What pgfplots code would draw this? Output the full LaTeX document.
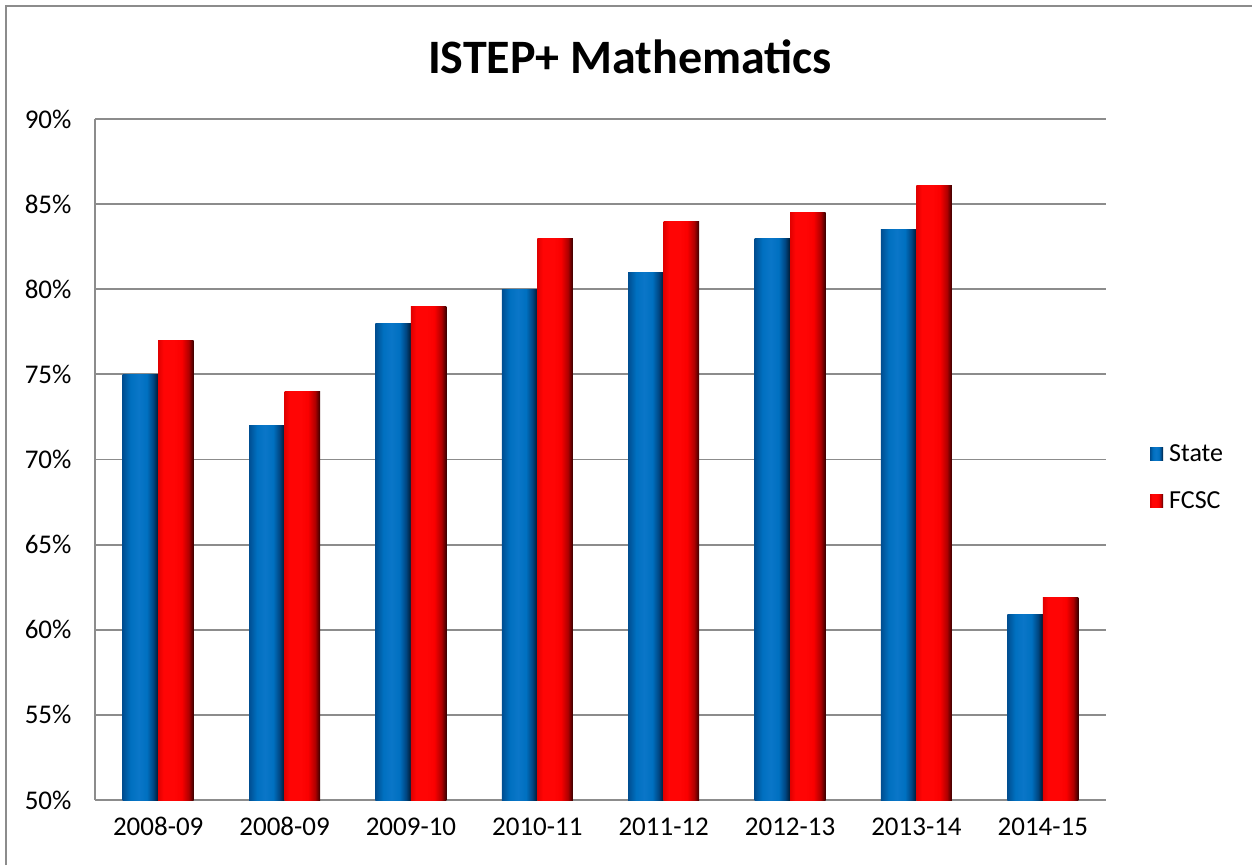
\documentclass[border=0pt]{standalone}
\usepackage{pgfplots}
\pgfplotsset{compat=1.18}
\usepackage{fontspec}
\setmainfont{Carlito}
\definecolor{gridgray}{RGB}{140,140,140}
\definecolor{bA}{RGB}{0,78,145}
\definecolor{bB}{RGB}{0,112,192}
\definecolor{bC}{RGB}{10,118,200}
\definecolor{bD}{RGB}{0,70,130}
\definecolor{bE}{RGB}{0,25,50}
\definecolor{rA}{RGB}{225,0,0}
\definecolor{rB}{RGB}{255,5,5}
\definecolor{rC}{RGB}{250,0,0}
\definecolor{rD}{RGB}{175,0,0}
\definecolor{rE}{RGB}{55,0,0}
\pgfdeclarehorizontalshading{stshade}{100bp}{color(0bp)=(bA); color(25bp)=(bA); color(36bp)=(bB); color(47.5bp)=(bC); color(59bp)=(bB); color(68bp)=(bD); color(75bp)=(bE); color(100bp)=(bE)}
\pgfdeclarehorizontalshading{fcshade}{100bp}{color(0bp)=(rA); color(25bp)=(rA); color(32.5bp)=(rB); color(47.5bp)=(rB); color(58bp)=(rC); color(68bp)=(rD); color(75bp)=(rE); color(100bp)=(rE)}
\pgfplotsset{
  stbar/.style={ybar, bar width=35.5pt, bar shift=-17.75pt, draw=none, shading=stshade},
  fcbar/.style={ybar, bar width=35.5pt, bar shift=17.75pt, draw=none, shading=fcshade},
}
\begin{document}
\begin{tikzpicture}[x=1pt,y=1pt]
\useasboundingbox (0,0) rectangle (1252,865);
\draw[gridgray, line width=1.6pt] (6,0) -- (6,859) -- (1252,859);
\node[font=\fontsize{48}{56}\selectfont\bfseries] at (630,808) {ISTEP+ Mathematics};
\begin{axis}[
  at={(95pt,65pt)}, anchor=south west,
  scale only axis, width=1011pt, height=681pt,
  xmin=-0.5, xmax=7.5,
  ymin=50, ymax=90, ytick={50,55,...,90},
  xtick={0,...,7},
  xticklabels={2008-09,2008-09,2009-10,2010-11,2011-12,2012-13,2013-14,2014-15},
  yticklabel={\pgfmathprintnumber{\tick}\%},
  /pgf/number format/assume math mode=true,
  tick label style={font=\fontsize{27}{31}\selectfont},
  yticklabel style={xshift=-20pt},
  xticklabel style={yshift=-14pt},
  axis x line*=bottom, axis y line*=left,
  axis line style={gridgray, line width=1.8pt},
  major tick length=0pt,
  ymajorgrids, grid style={gridgray, line width=1.8pt},
  legend style={at={(1.0435,0.474)}, anchor=west, draw=none, fill=none,
    font=\fontsize{26}{30}\selectfont, row sep=25pt, inner sep=0pt},
  legend cell align=left,
  legend image code/.code={\path[#1] (0pt,-6.5pt) rectangle (13pt,6.5pt);},
  clip=false,
]
\addplot[stbar] coordinates {(0,75)};
\addplot[fcbar] coordinates {(0,77)};
\addplot[stbar, forget plot] coordinates {(1,72)};
\addplot[stbar, forget plot] coordinates {(2,78)};
\addplot[stbar, forget plot] coordinates {(3,80)};
\addplot[stbar, forget plot] coordinates {(4,81)};
\addplot[stbar, forget plot] coordinates {(5,83)};
\addplot[stbar, forget plot] coordinates {(6,83.5)};
\addplot[stbar, forget plot] coordinates {(7,60.9)};
\addplot[fcbar, forget plot] coordinates {(1,74)};
\addplot[fcbar, forget plot] coordinates {(2,79)};
\addplot[fcbar, forget plot] coordinates {(3,83)};
\addplot[fcbar, forget plot] coordinates {(4,84)};
\addplot[fcbar, forget plot] coordinates {(5,84.5)};
\addplot[fcbar, forget plot] coordinates {(6,86.1)};
\addplot[fcbar, forget plot] coordinates {(7,61.9)};
\legend{\hspace{4pt}State,\hspace{4pt}FCSC}
\end{axis}
\end{tikzpicture}
\end{document}
